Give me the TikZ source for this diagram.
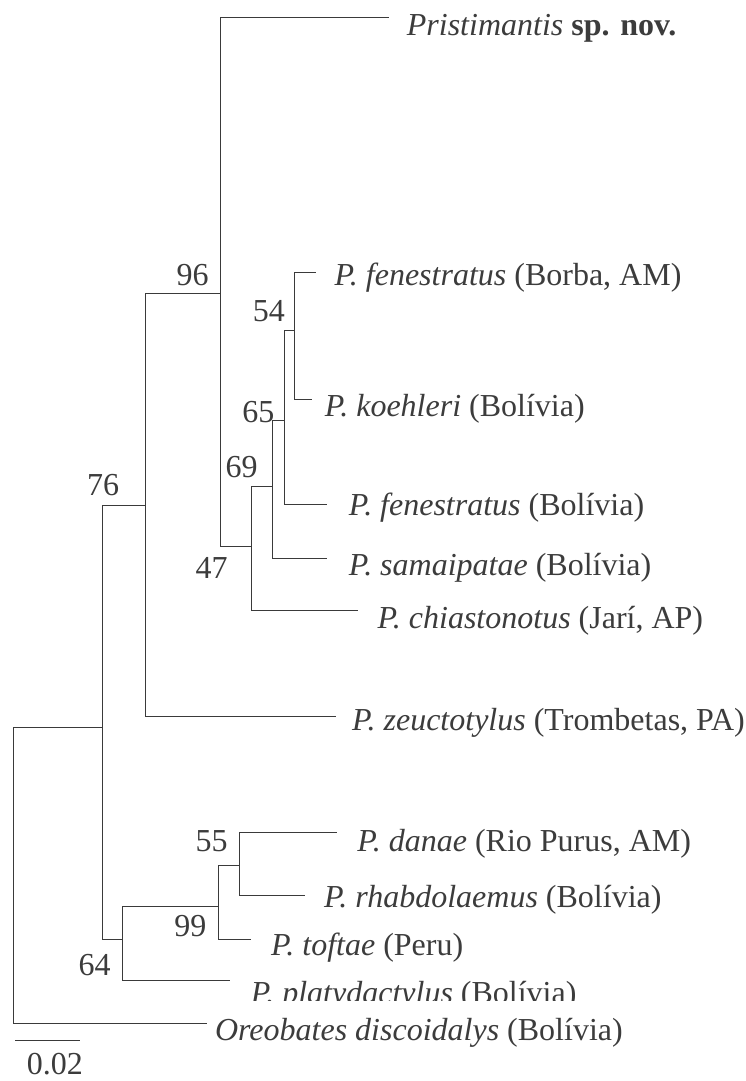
\documentclass[tikz,border=0pt]{standalone}
\usepackage{fontspec}
\setmainfont{Liberation Serif}
\definecolor{linec}{HTML}{3A3A3A}
\definecolor{textc}{HTML}{3C3C3C}
\begin{document}
\begin{tikzpicture}[x=1pt,y=-1pt,
  branch/.style={draw=linec,line width=1pt,line cap=rect},
  taxon/.style={anchor=base west,inner sep=0pt,text=textc,font=\fontsize{32}{38}\selectfont},
  boot/.style={anchor=base east,inner sep=0pt,text=textc,font=\fontsize{32}{38}\selectfont}]
\useasboundingbox[fill=white] (0,0) rectangle (745,1081);
% internal nodes
\coordinate (R)   at (13.3,727.3);
\coordinate (N1)  at (102.7,727.3);
\coordinate (N76) at (145.2,505);
\coordinate (N96) at (220,293);
\coordinate (N47) at (251.7,546.7);
\coordinate (N69) at (272.7,486);
\coordinate (N65) at (284.6,420.7);
\coordinate (N54) at (294.2,330);
\coordinate (N64) at (122.7,939.3);
\coordinate (N99) at (218.3,906.7);
\coordinate (N55) at (239.3,865);
% tips
\coordinate (tPris) at (388.3,17.7);
\coordinate (tBorb) at (315,272.7);
\coordinate (tKoeh) at (311.4,399.3);
\coordinate (tFenB) at (326.2,504.3);
\coordinate (tSama) at (326.2,558.3);
\coordinate (tChia) at (357.2,610.7);
\coordinate (tZeuc) at (335.7,716.7);
\coordinate (tDana) at (336.7,832.7);
\coordinate (tRhab) at (304.7,895.7);
\coordinate (tToft) at (250,939);
\coordinate (tPlat) at (229.3,980.7);
\coordinate (tOreo) at (206.7,1023.3);
% branches
\draw[branch] (R) |- (N1);
\draw[branch] (R) |- (tOreo);
\draw[branch] (N1) |- (N76);
\draw[branch] (N1) |- (N64);
\draw[branch] (N76) |- (N96);
\draw[branch] (N76) |- (tZeuc);
\draw[branch] (N96) |- (tPris);
\draw[branch] (N96) |- (N47);
\draw[branch] (N47) |- (N69);
\draw[branch] (N47) |- (tChia);
\draw[branch] (N69) |- (N65);
\draw[branch] (N69) |- (tSama);
\draw[branch] (N65) |- (N54);
\draw[branch] (N65) |- (tFenB);
\draw[branch] (N54) |- (tBorb);
\draw[branch] (N54) |- (tKoeh);
\draw[branch] (N64) |- (N99);
\draw[branch] (N64) |- (tPlat);
\draw[branch] (N99) |- (N55);
\draw[branch] (N99) |- (tToft);
\draw[branch] (N55) |- (tDana);
\draw[branch] (N55) |- (tRhab);
% taxon labels
\node[taxon] (lPris) at (406.7,35.5) {\textit{Pristimantis} \textbf{sp. nov.}};
\node[taxon] (lBorb) at (334.3,285) {\textit{P. fenestratus} (Borba, AM)};
\node[taxon] (lKoeh) at (324.7,416.7) {\textit{P. koehleri} (Bolívia)};
\node[taxon] (lFenB) at (348.6,515) {\textit{P. fenestratus} (Bolívia)};
\node[taxon] (lSama) at (348.6,575) {\textit{P. samaipatae} (Bolívia)};
\node[taxon] (lChia) at (377.3,628.3) {\textit{P. chiastonotus} (Jarí, AP)};
\node[taxon] (lZeuc) at (352,730) {\textit{P. zeuctotylus} (Trombetas, PA)};
\node[taxon] (lDana) at (357.2,851.7) {\textit{P. danae} (Rio Purus, AM)};
\node[taxon] (lRhab) at (323.8,907.7) {\textit{P. rhabdolaemus} (Bolívia)};
\node[taxon] (lToft) at (270.8,955) {\textit{P. toftae} (Peru)};
\begin{scope}
\clip (200,940) rectangle (700,1000.7);
\node[taxon] (lPlat) at (250.7,1003) {\textit{P. platydactylus} (Bolívia)};
\end{scope}
\node[taxon] (lOreo) at (214.9,1040) {\textit{Oreobates discoidalys} (Bolívia)};
% bootstrap values
\node[boot] (b96) at (208.7,285) {96};
\node[boot] (b54) at (285,321.7) {54};
\node[boot] (b65) at (274.6,422.3) {65};
\node[boot] (b69) at (257.9,477.7) {69};
\node[boot] (b47) at (227.8,578.3) {47};
\node[boot] (b76) at (119.4,495) {76};
\node[boot] (b55) at (227.8,851.7) {55};
\node[boot] (b99) at (206.5,936) {99};
\node[boot] (b64) at (110.8,975) {64};
% scale bar
\coordinate (sb1) at (15,1040.7);
\coordinate (sb2) at (79,1040.7);
\draw[branch] (sb1) -- (sb2);
\node[taxon] (lsb) at (26.7,1074) {0.02};
\end{tikzpicture}
\end{document}
